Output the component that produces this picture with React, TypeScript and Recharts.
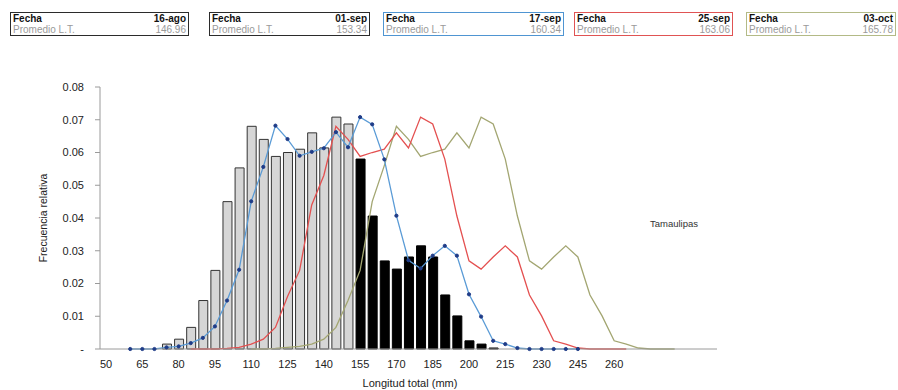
import React from "react";
import {
  ComposedChart, Bar, Line, XAxis, YAxis,
} from "recharts";

// longitud total (mm), clases de 5 mm
const categorias = [
  50, 55, 60, 65, 70, 75, 80, 85, 90, 95, 100, 105, 110, 115, 120, 125, 130,
  135, 140, 145, 150, 155, 160, 165, 170, 175, 180, 185, 190, 195, 200, 205,
  210, 215, 220, 225, 230, 235, 240, 245, 250, 255, 260, 265, 270, 275, 280,
  285, 290, 295, 300,
];

const etiquetasX = [50, 65, 80, 95, 110, 125, 140, 155, 170, 185, 200, 215, 230, 245, 260];
const etiquetasY = [0, 0.01, 0.02, 0.03, 0.04, 0.05, 0.06, 0.07, 0.08];

// barras grises, desde 75 mm
const inicioGris = 75;
const barrasGris = [
  0.0015, 0.003, 0.0066, 0.0148, 0.024, 0.045, 0.0553, 0.068, 0.064, 0.0588,
  0.06, 0.061, 0.066, 0.0614, 0.0708, 0.0687,
];

// barras negras, desde 155 mm
const inicioNegro = 155;
const barrasNegro = [
  0.058, 0.0406, 0.0269, 0.0244, 0.0281, 0.0315, 0.0281, 0.0165, 0.0101,
  0.0025, 0.0015, 0.0003,
];

// 17-sep, desde 60 mm
const inicioSep17 = 60;
const sep17 = [
  0, 0, 0, 0.0005, 0.0008, 0.0018, 0.0034, 0.0069, 0.0148, 0.0242, 0.0451,
  0.0556, 0.0682, 0.0641, 0.059, 0.0602, 0.0613, 0.0662, 0.0616, 0.0708,
  0.0686, 0.0579, 0.0407, 0.0271, 0.0246, 0.0285, 0.0315, 0.0285, 0.0167,
  0.0099, 0.0025, 0.0015, 0.0003, 0, 0, 0, 0, 0,
];

// 25-sep, desde 85 mm
const inicioSep25 = 85;
const sep25 = [
  0, 0, 0, 0.0002, 0.0005, 0.0015, 0.003, 0.0066, 0.016, 0.024, 0.044, 0.053,
  0.068, 0.064, 0.0588, 0.06, 0.061, 0.066, 0.0614, 0.0708, 0.0687, 0.058,
  0.0406, 0.0269, 0.0244, 0.0281, 0.0315, 0.0281, 0.0165, 0.0101, 0.0025,
  0.0015, 0.0003, 0, 0, 0, 0,
];

// 03-oct, desde 110 mm
const inicioOct03 = 110;
const oct03 = [
  0, 0, 0.0002, 0.0005, 0.0008, 0.0015, 0.003, 0.0066, 0.0148, 0.024, 0.045,
  0.056, 0.068, 0.064, 0.0588, 0.06, 0.061, 0.066, 0.0614, 0.0708, 0.0687,
  0.058, 0.0406, 0.0269, 0.0244, 0.0281, 0.0315, 0.0281, 0.0165, 0.0101,
  0.0025, 0.0015, 0.0003, 0, 0, 0,
];

const leyendas = [
  { fecha: "16-ago", promedio: "146.96", color: "#2b2b2b", left: 10, width: 180 },
  { fecha: "01-sep", promedio: "153.34", color: "#2b2b2b", left: 209, width: 162 },
  { fecha: "17-sep", promedio: "160.34", color: "#4f95d2", left: 383, width: 182 },
  { fecha: "25-sep", promedio: "163.06", color: "#e05353", left: 574, width: 160 },
  { fecha: "03-oct", promedio: "165.78", color: "#b3ba86", left: 746, width: 151 },
];

const pick = (serie: number[], inicio: number, x: number) => {
  const i = (x - inicio) / 5;
  return i >= 0 && i < serie.length ? serie[i] : null;
};

const data = categorias.map((x) => ({
  x,
  gris: pick(barrasGris, inicioGris, x),
  negro: pick(barrasNegro, inicioNegro, x),
  sep17: pick(sep17, inicioSep17, x),
  sep25: pick(sep25, inicioSep25, x),
  oct03: pick(oct03, inicioOct03, x),
}));

const font = "'Liberation Sans', Arial, sans-serif";

export default function App() {
  return (
    <div
      style={{
        position: "absolute", left: 0, top: 0, width: 898, height: 390,
        overflow: "hidden", background: "#fff", fontFamily: font,
      }}
    >
      {leyendas.map((l) => (
        <div
          key={l.fecha}
          style={{
            position: "absolute", left: l.left, top: 12, width: l.width - 7, height: 22,
            border: `1.5px solid ${l.color}`, padding: "0 2px", fontSize: 10, lineHeight: "11px",
          }}
        >
          <div style={{ display: "flex", justifyContent: "space-between", fontWeight: "bold", color: "#111" }}>
            <span>Fecha</span>
            <span>{l.fecha}</span>
          </div>
          <div style={{ display: "flex", justifyContent: "space-between", color: "#9a9a9a" }}>
            <span>Promedio L.T.</span>
            <span>{l.promedio}</span>
          </div>
        </div>
      ))}
      <div style={{ position: "absolute", left: 0, top: 0 }}>
        <ComposedChart
          width={898}
          height={390}
          data={data}
          margin={{ top: 87, right: 181, bottom: 11, left: 0 }}
        >
          <XAxis
            type="number"
            dataKey="x"
            domain={[47.5, 302.5]}
            ticks={etiquetasX}
            interval={0}
            tickLine={false}
            tickMargin={5}
            axisLine={{ stroke: "#9a9a9a" }}
            height={30}
            tick={{ fill: "#222", fontSize: 11, fontFamily: font }}
            label={() => (
              <text x={410} y={387} textAnchor="middle" fontSize={11} fill="#222" fontFamily={font}>
                Longitud total (mm)
              </text>
            )}
          />
          <YAxis
            domain={[0, 0.08]}
            ticks={etiquetasY}
            interval={0}
            width={100}
            tickSize={5}
            tickMargin={11}
            axisLine={{ stroke: "#9a9a9a" }}
            tickLine={{ stroke: "#9a9a9a" }}
            tick={{ fill: "#222", fontSize: 11, fontFamily: font }}
            tickFormatter={(v: number) => (v === 0 ? "-" : v.toFixed(2))}
            label={() => (
              <text
                x={47}
                y={218}
                transform="rotate(-90 47 218)"
                textAnchor="middle"
                fontSize={10.5}
                fill="#222"
                fontFamily={font}
              >
                Frecuencia relativa
              </text>
            )}
          />
          <Bar dataKey="gris" stackId="b" barSize={9} fill="#d6d6d6" stroke="#333" strokeWidth={1} isAnimationActive={false} />
          <Bar dataKey="negro" stackId="b" barSize={9} fill="#000" stroke="#000" strokeWidth={1} isAnimationActive={false} />
          <Line dataKey="oct03" stroke="#a3a672" strokeWidth={1.3} dot={false} isAnimationActive={false} />
          <Line dataKey="sep25" stroke="#e45050" strokeWidth={1.3} dot={false} isAnimationActive={false} />
          <Line
            dataKey="sep17"
            stroke="#5a9bd6"
            strokeWidth={1.3}
            dot={{ r: 1.6, fill: "#1f3c88", stroke: "#1f3c88", strokeWidth: 1 }}
            isAnimationActive={false}
          />
        </ComposedChart>
      </div>
      <div style={{ position: "absolute", left: 650, top: 218, fontSize: 9.5, color: "#333" }}>
        Tamaulipas
      </div>
    </div>
  );
}
